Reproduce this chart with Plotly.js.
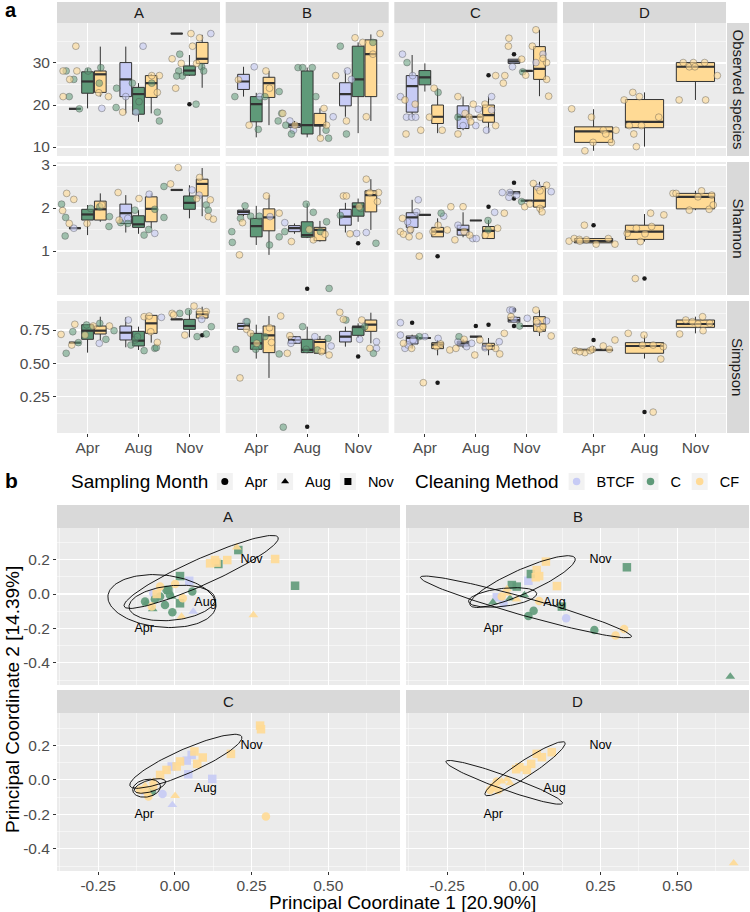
<!DOCTYPE html>
<html>
<head>
<meta charset="utf-8">
<script src="https://cdn.plot.ly/plotly-3.0.1.min.js"></script>
<style>
  html, body { margin: 0; padding: 0; background: #fff; }
  #chart { width: 750px; height: 912px; }
</style>
</head>
<body>
<div id="chart"></div>
<script>
var months = ['Apr', 'Aug', 'Nov'];
var sites = ['A', 'B', 'C', 'D'];
var methods = ['BTCF', 'C', 'CF'];
var metrics = ['Observed species', 'Shannon', 'Simpson'];
var colors = { BTCF: '#C7CBF5', C: '#5F9A79', CF: '#FFDA95' };
var pointFill = { BTCF: 'rgba(199,203,245,0.6)', C: 'rgba(95,154,121,0.55)', CF: 'rgba(255,218,149,0.6)' };

// box stats: site, method, month index, lower whisker, q1, median, q3, upper whisker
var obsBoxes = [
  ['A','BTCF',0,19.1,19.1,19.1,19.1,19.1], ['A','BTCF',1,18.0,22.0,26.1,30.1,33.9], ['A','BTCF',2,37,37,37,37,37],
  ['A','C',0,19.2,22.8,25.6,27.9,28.7], ['A','C',1,16.0,17.8,22.6,24.2,25.2], ['A','C',2,26.9,27.1,28.2,29.3,31.9],
  ['A','CF',0,22.0,23.0,27.3,28.1,33.9], ['A','CF',1,18.0,21.8,25.2,27.0,27.4], ['A','CF',2,24.1,29.9,31.0,34.9,36.7],
  ['B','BTCF',0,22.0,23.7,25.6,27.3,29.1], ['B','BTCF',1,14.7,14.7,15.2,15.6,16.2], ['B','BTCF',2,17.2,19.8,22.6,25.3,28.3],
  ['B','C',0,12.3,16.0,20.2,22.0,22.9], ['B','C',1,12.3,13.1,15.2,28.1,28.9], ['B','C',2,13.3,22.0,26.1,34.0,34.9],
  ['B','CF',0,15.2,21.8,25.2,26.6,28.1], ['B','CF',1,12.5,15.0,15.2,18.0,19.2], ['B','CF',2,16.2,22.0,32.1,35.5,36.8],
  ['C','BTCF',0,17.1,18.3,24.5,27.0,31.9], ['C','BTCF',1,14.0,14.4,17.2,19.8,22.0], ['C','BTCF',2,29.9,29.9,30.4,30.9,30.9],
  ['C','C',0,23.2,24.8,26.6,28.2,29.9], ['C','C',1,17.2,17.2,17.2,17.2,17.2], ['C','C',2,28.1,28.1,28.1,28.1,28.1],
  ['C','CF',0,13.3,15.6,17.2,20.0,24.0], ['C','CF',1,13.4,15.9,17.6,20.0,22.0], ['C','CF',2,22.1,26.1,28.6,33.9,37.9],
  ['D','CF',0,9.1,11.1,13.7,14.8,19.0], ['D','CF',1,10.1,14.6,16.0,21.3,23.0], ['D','CF',2,21.2,25.6,29.1,30.1,30.1]
];
var shanBoxes = [
  ['A','BTCF',0,1.53,1.53,1.53,1.53,1.53], ['A','BTCF',1,1.43,1.64,1.88,2.09,2.30], ['A','BTCF',2,2.42,2.42,2.42,2.42,2.42],
  ['A','C',0,1.37,1.72,1.85,1.97,2.07], ['A','C',1,1.40,1.55,1.62,1.82,1.95], ['A','C',2,1.76,1.97,2.12,2.28,2.53],
  ['A','CF',0,1.68,1.72,1.97,2.16,2.34], ['A','CF',1,1.53,1.68,1.98,2.26,2.34], ['A','CF',2,1.81,2.28,2.56,2.67,2.93],
  ['B','BTCF',0,1.81,1.85,1.91,1.95,2.00], ['B','BTCF',1,1.40,1.45,1.53,1.59,1.64], ['B','BTCF',2,1.43,1.60,1.80,1.97,2.12],
  ['B','C',0,1.14,1.33,1.58,1.76,2.05], ['B','C',1,1.30,1.32,1.37,1.68,2.11], ['B','C',2,1.68,1.81,2.03,2.12,2.22],
  ['B','CF',0,0.91,1.47,1.78,1.98,2.30], ['B','CF',1,1.22,1.24,1.49,1.55,1.70], ['B','CF',2,1.49,1.91,2.30,2.40,2.67],
  ['C','BTCF',0,1.41,1.55,1.78,1.89,2.19], ['C','BTCF',1,1.32,1.37,1.49,1.60,1.90], ['C','BTCF',2,2.33,2.33,2.36,2.38,2.38],
  ['C','C',0,1.84,1.84,1.84,1.84,1.84], ['C','C',1,1.71,1.71,1.71,1.71,1.71], ['C','C',2,2.17,2.17,2.17,2.17,2.17],
  ['C','CF',0,1.33,1.33,1.45,1.55,1.76], ['C','CF',1,1.29,1.29,1.47,1.57,1.72], ['C','CF',2,1.88,2.02,2.17,2.50,2.61],
  ['D','CF',0,1.16,1.19,1.23,1.29,1.29], ['D','CF',1,1.22,1.27,1.45,1.60,1.86], ['D','CF',2,1.95,1.98,2.26,2.34,2.40]
];
var simpBoxes = [
  ['A','BTCF',0,0.655,0.655,0.655,0.655,0.655], ['A','BTCF',1,0.62,0.675,0.73,0.78,0.845], ['A','BTCF',2,0.83,0.83,0.83,0.83,0.83],
  ['A','C',0,0.58,0.68,0.745,0.79,0.795], ['A','C',1,0.60,0.63,0.67,0.74,0.775], ['A','C',2,0.695,0.755,0.78,0.83,0.90],
  ['A','CF',0,0.675,0.72,0.745,0.78,0.85], ['A','CF',1,0.655,0.725,0.80,0.86,0.86], ['A','CF',2,0.83,0.84,0.87,0.89,0.925],
  ['B','BTCF',0,0.755,0.755,0.78,0.80,0.80], ['B','BTCF',1,0.65,0.65,0.675,0.70,0.70], ['B','BTCF',2,0.625,0.66,0.70,0.74,0.775],
  ['B','C',0,0.535,0.605,0.65,0.725,0.79], ['B','C',1,0.575,0.58,0.60,0.68,0.775], ['B','C',2,0.69,0.71,0.775,0.775,0.80],
  ['B','CF',0,0.39,0.58,0.71,0.78,0.855], ['B','CF',1,0.565,0.575,0.66,0.68,0.705], ['B','CF',2,0.65,0.74,0.79,0.825,0.88],
  ['C','BTCF',0,0.61,0.645,0.69,0.705,0.715], ['C','BTCF',1,0.615,0.63,0.65,0.665,0.68], ['C','BTCF',2,0.81,0.81,0.825,0.845,0.845],
  ['C','C',0,0.69,0.69,0.69,0.69,0.69], ['C','C',1,0.70,0.70,0.70,0.70,0.70], ['C','C',2,0.78,0.78,0.78,0.78,0.78],
  ['C','CF',0,0.56,0.61,0.64,0.655,0.675], ['C','CF',1,0.56,0.605,0.63,0.65,0.69], ['C','CF',2,0.705,0.74,0.795,0.85,0.90],
  ['D','CF',0,0.58,0.595,0.60,0.60,0.63], ['D','CF',1,0.535,0.575,0.63,0.655,0.71], ['D','CF',2,0.725,0.77,0.795,0.825,0.85]
];

// outliers: site, method, month index, value
var obsOut = [['A','C',2,20.2], ['C','BTCF',2,32.1], ['C','CF',1,27.1]];
var shanOut = [['B','C',1,0.12], ['B','C',2,1.18], ['C','CF',0,0.88], ['C','CF',1,2.03], ['C','BTCF',2,2.59],
  ['C','BTCF',2,2.22], ['D','CF',0,1.60], ['D','CF',1,0.36]];
var simpOut = [['A','CF',2,0.71], ['B','C',1,0.023], ['B','C',2,0.55], ['C','BTCF',0,0.805], ['C','CF',0,0.354],
  ['C','C',1,0.78], ['C','CF',1,0.79], ['C','BTCF',2,0.90], ['C','BTCF',2,0.78], ['D','CF',0,0.675], ['D','CF',1,0.133]];

// jittered samples: site, method, x position (month 1..3 + jitter), value
var obsPts = [
  ['A','CF',0.52,28.1],['A','C',0.58,28.1],['A','CF',0.77,34.0],['A','CF',0.79,28.1],['A','CF',0.65,26.1],['A','C',0.73,26.1],
  ['A','CF',0.52,22.0],['A','C',0.64,22.0],['A','C',0.84,19.1],['A','C',1.01,28.1],['A','C',1.23,25.2],['A','C',1.26,28.9],
  ['A','BTCF',1.28,19.2],['A','CF',1.41,22.0],['A','CF',1.22,22.9],
  ['A','C',1.56,19.4],['A','CF',1.69,18.3],['A','C',1.57,24.0],['A','BTCF',1.75,22.0],['A','BTCF',2.09,34.0],['A','C',1.88,25.2],
  ['A','BTCF',1.95,18.3],['A','C',2.01,20.8],['A','CF',2.26,27.0],['A','CF',2.41,27.0],['A','C',2.26,25.2],['A','CF',2.37,23.0],
  ['A','C',2.37,18.3],['A','C',2.41,16.2],
  ['A','CF',2.66,31.0],['A','CF',2.73,24.0],['A','C',2.81,32.1],['A','CF',2.84,29.9],['A','C',2.79,28.1],['A','C',2.86,26.9],
  ['A','C',2.75,26.9],['A','CF',3.03,37.0],['A','CF',3.06,34.0],['A','C',3.13,20.2],['A','CF',3.20,36.0],['A','BTCF',3.42,37.0],
  ['A','C',3.24,29.1],['A','C',3.28,28.1],['A','CF',3.14,29.9],
  ['B','C',0.58,22.0],['B','BTCF',0.96,29.1],['B','C',1.04,14.2],['B','BTCF',1.07,22.0],['B','C',1.17,22.0],['B','CF',1.19,28.1],
  ['B','CF',1.26,24.0],['B','C',1.45,23.2],['B','C',1.50,18.0],['B','CF',1.52,18.0],['B','CF',0.86,15.2],['B','CF',0.65,26.0],
  ['B','C',1.43,16.2],['B','C',1.58,15.2],['B','BTCF',1.66,16.2],['B','C',1.69,13.1],['B','CF',1.76,15.2],['B','C',1.82,28.9],
  ['B','C',1.91,28.9],['B','C',2.10,28.9],['B','C',2.17,22.0],['B','CF',2.26,12.1],['B','CF',2.33,19.2],['B','C',2.37,14.0],
  ['B','C',2.42,12.1],['B','BTCF',2.51,17.2],['B','BTCF',1.73,14.0],['B','CF',2.38,15.2],
  ['B','CF',2.56,27.0],['B','C',2.65,34.0],['B','CF',2.77,16.2],['B','BTCF',2.79,28.1],['B','C',2.77,13.1],['B','BTCF',2.87,26.1],
  ['B','CF',2.94,36.0],['B','CF',3.09,34.9],['B','CF',3.16,17.2],['B','C',3.29,34.9],['B','CF',3.29,32.1],['B','CF',3.43,37.0],
  ['C','BTCF',0.56,32.1],['C','C',0.65,30.1],['C','BTCF',0.52,22.0],['C','CF',0.61,21.2],['C','BTCF',0.64,17.1],['C','BTCF',0.74,17.1],
  ['C','BTCF',0.82,17.1],['C','CF',0.81,20.2],['C','CF',0.63,13.1],['C','BTCF',0.76,27.0],['C','CF',0.92,14.0],['C','CF',1.09,17.1],
  ['C','CF',1.18,24.0],['C','C',1.26,23.0],['C','CF',1.34,14.0],
  ['C','CF',1.65,22.0],['C','CF',1.65,13.1],['C','C',1.65,17.1],['C','BTCF',1.75,15.1],['C','CF',1.79,18.0],['C','CF',1.87,17.1],
  ['C','CF',1.90,16.0],['C','CF',1.95,20.2],['C','BTCF',2.00,15.1],['C','BTCF',2.05,19.0],['C','CF',2.09,17.1],['C','CF',2.18,20.2],
  ['C','BTCF',2.21,14.0],['C','BTCF',2.31,22.0],['C','BTCF',2.31,18.8],['C','CF',2.39,15.1],['C','CF',2.39,27.0],
  ['C','CF',2.54,25.2],['C','CF',2.57,27.0],['C','CF',2.65,35.9],['C','CF',2.64,34.0],['C','BTCF',2.72,29.1],['C','CF',2.90,30.9],
  ['C','CF',2.98,27.1],['C','C',2.92,27.9],['C','CF',3.11,34.0],['C','CF',3.18,37.9],['C','BTCF',3.18,30.1],['C','BTCF',3.32,32.1],
  ['C','CF',3.39,30.1],['C','CF',3.39,26.1],['C','CF',3.43,22.1],['C','CF',3.32,31.1],
  ['D','CF',0.57,19.1],['D','CF',0.96,17.1],['D','CF',0.83,9.1],['D','CF',0.99,11.1],['D','CF',1.19,14.0],['D','CF',1.24,13.1],
  ['D','CF',1.35,11.1],['D','CF',1.44,14.0],
  ['D','CF',1.60,21.2],['D','CF',1.77,23.0],['D','CF',1.90,22.0],['D','CF',1.70,15.1],['D','CF',1.79,13.1],['D','CF',1.84,10.1],
  ['D','CF',1.94,15.1],['D','CF',2.28,17.1],
  ['D','CF',2.68,21.2],['D','CF',2.76,30.1],['D','CF',2.88,29.1],['D','CF',2.96,30.1],['D','CF',2.99,29.1],['D','CF',3.18,30.1],
  ['D','CF',3.20,21.2],['D','CF',3.43,27.0]
];
var shanPts = [
  ['A','C',0.49,2.09],['A','CF',0.51,1.94],['A','C',0.57,1.78],['A','CF',0.59,2.34],['A','CF',0.64,1.64],['A','C',0.56,1.35],
  ['A','CF',0.73,2.20],['A','CF',0.99,1.64],['A','C',1.06,1.99],['A','CF',1.28,2.07],['A','C',1.24,2.03],['A','C',1.43,1.80],
  ['A','BTCF',0.73,1.53],['A','C',1.42,1.57],
  ['A','CF',1.60,2.36],['A','CF',1.62,1.72],['A','C',1.65,1.66],['A','BTCF',1.79,1.76],['A','C',1.79,1.64],['A','C',1.93,1.95],
  ['A','CF',2.01,2.22],['A','C',2.11,1.37],['A','C',2.20,1.50],['A','BTCF',2.21,2.32],['A','BTCF',2.32,1.41],['A','C',2.32,1.97],
  ['A','C',2.50,1.78],
  ['A','CF',2.78,2.94],['A','CF',2.63,2.56],['A','C',2.50,2.50],['A','BTCF',3.05,2.42],['A','CF',3.20,2.71],['A','CF',3.14,2.22],
  ['A','BTCF',3.19,2.30],['A','C',3.33,2.07],['A','C',3.37,1.95],['A','CF',3.41,2.19],['A','CF',3.37,1.80],['A','CF',3.47,1.74],
  ['B','C',0.52,1.45],['B','C',0.53,1.20],['B','CF',0.67,0.91],['B','C',0.69,1.76],['B','CF',0.73,1.66],['B','C',0.78,2.05],
  ['B','C',0.89,1.81],['B','C',1.06,1.81],['B','CF',1.20,2.28],['B','C',1.26,1.14],['B','BTCF',1.27,1.80],['B','CF',1.45,1.88],
  ['B','C',1.45,1.33],
  ['B','BTCF',1.56,1.66],['B','C',1.56,1.45],['B','CF',1.69,1.22],['B','C',1.98,2.09],['B','CF',2.04,1.50],['B','C',2.12,1.90],
  ['B','CF',2.12,1.26],['B','C',2.26,1.45],['B','CF',2.35,1.39],['B','C',2.38,1.68],['B','C',2.43,0.13],
  ['B','C',2.65,1.83],['B','CF',2.71,2.28],['B','CF',2.77,2.28],['B','CF',2.84,1.40],['B','CF',3.02,2.03],['B','C',3.05,1.99],
  ['B','BTCF',3.16,1.43],['B','C',3.35,1.18],['B','CF',3.38,2.15],['B','CF',3.16,2.67],['B','CF',3.23,2.36],['B','CF',3.40,2.36],
  ['B','BTCF',2.97,1.41],
  ['C','CF',0.52,1.45],['C','CF',0.56,1.76],['C','CF',0.58,1.39],['C','BTCF',0.66,1.68],['C','BTCF',0.71,1.49],['C','CF',0.69,1.33],
  ['C','CF',0.72,1.50],['C','BTCF',0.84,1.91],['C','BTCF',0.87,2.19],['C','CF',0.89,0.88],['C','CF',0.89,1.35],['C','CF',1.26,1.60],
  ['C','C',1.32,1.88],['C','BTCF',1.37,1.81],['C','CF',1.44,1.49],['C','CF',1.16,1.45],
  ['C','CF',1.51,2.03],['C','CF',1.59,1.26],['C','BTCF',1.65,1.60],['C','CF',1.75,2.03],['C','CF',1.77,1.45],['C','CF',1.88,1.37],
  ['C','BTCF',1.94,1.29],['C','BTCF',2.01,1.29],['C','CF',2.18,1.37],['C','C',2.24,1.49],['C','C',2.24,1.71],['C','BTCF',2.37,1.90],
  ['C','CF',2.43,1.53],['C','CF',2.56,1.88],
  ['C','BTCF',2.52,2.36],['C','BTCF',2.65,2.25],['C','BTCF',2.67,2.36],['C','BTCF',2.80,2.30],['C','C',2.90,2.15],['C','CF',2.96,2.03],
  ['C','CF',3.06,2.09],['C','CF',3.13,2.57],['C','BTCF',3.22,2.48],['C','CF',3.26,2.40],['C','CF',3.26,1.99],['C','CF',3.30,1.91],
  ['C','BTCF',3.48,2.38],['C','CF',3.39,2.53],
  ['D','CF',0.52,1.23],['D','CF',0.62,1.29],['D','CF',0.72,1.27],['D','CF',0.82,1.60],['D','CF',0.86,1.26],['D','CF',1.05,1.16],
  ['D','CF',1.29,1.29],['D','CF',1.42,1.16],['D','CF',0.73,1.23],
  ['D','CF',1.66,1.41],['D','CF',1.82,0.36],['D','CF',1.92,1.22],['D','CF',2.01,1.40],['D','CF',2.12,1.88],['D','CF',2.14,1.57],
  ['D','CF',2.38,1.84],['D','CF',1.84,1.53],
  ['D','CF',2.56,2.34],['D','CF',2.62,2.34],['D','CF',2.88,1.95],['D','CF',3.05,2.26],['D','CF',3.12,2.40],['D','CF',3.27,1.97],
  ['D','CF',3.32,2.30],['D','CF',3.35,2.07]
];
var simpPts = [
  ['A','CF',0.48,0.717],['A','C',0.58,0.575],['A','CF',0.69,0.637],['A','C',0.71,0.737],['A','CF',0.75,0.793],['A','C',0.82,0.655],
  ['A','CF',0.95,0.712],['A','C',0.98,0.788],['A','CF',1.11,0.78],['A','BTCF',1.23,0.65],['A','C',1.24,0.80],['A','C',1.36,0.68],
  ['A','CF',1.43,0.78],['A','C',1.52,0.745],
  ['A','BTCF',1.80,0.825],['A','C',1.85,0.637],['A','C',1.93,0.675],['A','C',1.98,0.70],['A','C',2.11,0.595],['A','CF',2.11,0.85],
  ['A','CF',2.21,0.855],['A','CF',2.24,0.737],['A','C',2.32,0.612],['A','CF',2.37,0.657],['A','BTCF',2.45,0.845],['A','C',2.35,0.617],
  ['A','CF',2.66,0.875],['A','CF',2.69,0.863],['A','C',2.81,0.875],['A','CF',2.91,0.712],['A','C',2.98,0.888],['A','CF',3.09,0.93],
  ['A','C',3.15,0.70],['A','CF',3.20,0.888],['A','BTCF',3.24,0.83],['A','C',3.33,0.72],['A','C',3.43,0.775],['A','CF',3.33,0.888],
  ['B','C',0.60,0.605],['B','CF',0.68,0.39],['B','BTCF',0.80,0.813],['B','C',0.82,0.813],['B','CF',0.81,0.755],['B','C',0.99,0.605],
  ['B','CF',1.01,0.65],['B','C',1.17,0.70],['B','CF',1.26,0.767],['B','CF',1.30,0.657],['B','CF',1.48,0.855],['B','C',1.45,0.57],
  ['B','CF',0.89,0.725],
  ['B','CF',1.61,0.575],['B','CF',1.66,0.707],['B','BTCF',1.68,0.65],['B','BTCF',1.82,0.675],['B','C',1.91,0.775],['B','C',1.98,0.605],
  ['B','BTCF',2.15,0.70],['B','C',2.20,0.60],['B','CF',2.28,0.587],['B','C',2.41,0.687],['B','CF',2.43,0.562],['B','BTCF',2.47,0.63],
  ['B','C',1.53,0.02],
  ['B','CF',2.64,0.883],['B','CF',2.71,0.83],['B','C',2.76,0.825],['B','BTCF',3.03,0.68],['B','CF',3.07,0.825],['B','C',3.13,0.775],
  ['B','CF',3.23,0.612],['B','C',3.30,0.575],['B','BTCF',3.36,0.612],['B','BTCF',3.36,0.662],
  ['C','BTCF',0.52,0.805],['C','BTCF',0.52,0.712],['C','CF',0.58,0.65],['C','BTCF',0.61,0.612],['C','BTCF',0.67,0.637],['C','CF',0.74,0.612],
  ['C','BTCF',0.77,0.675],['C','C',0.89,0.70],['C','BTCF',1.00,0.70],['C','CF',1.23,0.625],['C','BTCF',1.26,0.687],['C','CF',1.31,0.645],
  ['C','CF',1.49,0.60],['C','CF',0.97,0.354],
  ['C','CF',1.61,0.612],['C','BTCF',1.65,0.662],['C','C',1.67,0.70],['C','CF',1.77,0.68],['C','BTCF',1.82,0.625],['C','BTCF',1.92,0.65],
  ['C','CF',1.98,0.562],['C','CF',2.08,0.675],['C','BTCF',2.18,0.617],['C','CF',2.26,0.625],['C','CF',2.39,0.612],['C','BTCF',2.46,0.662],
  ['C','CF',2.47,0.57],['C','CF',2.56,0.725],
  ['C','BTCF',2.67,0.90],['C','BTCF',2.72,0.90],['C','CF',2.69,0.85],['C','BTCF',2.75,0.83],['C','C',2.86,0.78],['C','BTCF',3.01,0.838],
  ['C','CF',3.18,0.90],['C','BTCF',3.22,0.80],['C','CF',3.26,0.755],['C','CF',3.32,0.775],['C','BTCF',3.39,0.818],['C','CF',3.48,0.705],
  ['C','CF',3.19,0.813],
  ['D','CF',0.64,0.595],['D','CF',0.83,0.58],['D','CF',0.93,0.595],['D','CF',0.98,0.605],['D','CF',1.19,0.63],['D','CF',1.31,0.605],
  ['D','CF',1.42,0.675],['D','CF',0.73,0.587],
  ['D','CF',1.68,0.725],['D','CF',1.96,0.637],['D','CF',1.99,0.712],['D','CF',2.17,0.637],['D','CF',2.32,0.532],['D','CF',2.37,0.625],
  ['D','CF',2.17,0.133],
  ['D','CF',2.69,0.72],['D','CF',2.81,0.825],['D','CF',2.94,0.813],['D','CF',3.14,0.85],['D','CF',3.15,0.745],['D','CF',3.05,0.795],
  ['D','CF',3.28,0.80]
];

// PCoA samples: site, method, month, PC1, PC2
var pcoaPts = [
  ['A','C','Nov',0.017,0.104],['A','C','Nov',0.392,0.048],['A','C','Nov',0.207,0.255],['A','C','Nov',0.142,0.174],
  ['A','C','Nov',0.017,-0.054],['A','C','Nov',-0.021,0.023],['A','C','Apr',0.057,0.014],['A','C','Apr',-0.097,-0.044],
  ['A','C','Apr',-0.065,-0.031],['A','C','Apr',-0.048,-0.015],['A','C','Apr',-0.032,-0.064],['A','C','Apr',-0.027,0.023],
  ['A','C','Apr',-0.016,-0.006],['A','C','Apr',-0.008,-0.106],['A','C','Aug',-0.092,-0.054],['A','C','Aug',-0.072,-0.087],
  ['A','C','Aug',-0.010,-0.015],
  ['A','CF','Aug',0.202,0.271],['A','CF','Nov',0.115,0.178],['A','CF','Nov',0.131,0.197],['A','CF','Nov',0.136,0.182],
  ['A','CF','Nov',0.171,0.197],['A','CF','Nov',0.327,0.203],['A','CF','Aug',0.256,-0.122],['A','CF','Aug',0.022,-0.131],
  ['A','CF','Apr',-0.048,0.043],['A','CF','Apr',0.001,0.058],['A','CF','Apr',0.026,-0.025],['A','CF','Apr',-0.075,-0.073],
  ['A','CF','Nov',-0.059,0.0],
  ['A','BTCF','Nov',0.047,0.077],['A','BTCF','Aug',0.060,-0.102],['A','BTCF','Apr',-0.070,0.004],
  ['B','C','Nov',0.336,0.155],['B','C','Nov',0.023,0.116],['B','C','Nov',-0.039,0.052],['B','C','Nov',-0.023,0.043],
  ['B','C','Nov',0.124,-0.073],['B','C','Apr',0.032,-0.097],['B','C','Apr',0.015,-0.127],['B','C','Apr',0.230,-0.209],
  ['B','C','Aug',0.673,-0.479],['B','C','Aug',-0.101,-0.048],['B','C','Aug',-0.045,-0.025],['B','C','Aug',0.002,-0.006],
  ['B','CF','Nov',0.072,0.188],['B','CF','Nov',0.042,0.139],['B','CF','Nov',0.050,0.104],['B','CF','Nov',0.039,0.097],
  ['B','CF','Nov',0.108,0.046],['B','CF','Apr',0.050,-0.040],['B','CF','Apr',0.327,-0.203],['B','CF','Apr',0.299,-0.241],
  ['B','CF','Aug',-0.055,0.029],['B','CF','Aug',-0.023,-0.031],['B','CF','Aug',-0.053,0.004],['B','CF','Apr',-0.072,-0.015],
  ['B','BTCF','Nov',0.015,0.077],['B','BTCF','Nov',-0.088,-0.019],['B','BTCF','Apr',0.138,-0.141],['B','BTCF','Apr',-0.066,-0.054],
  ['C','CF','Nov',0.278,0.315],['C','CF','Nov',0.281,0.294],['C','CF','Apr',0.297,-0.212],['C','CF','Nov',0.183,0.151],
  ['C','CF','Nov',0.091,0.130],['C','CF','Nov',0.073,0.093],['C','CF','Nov',0.064,0.165],['C','CF','Nov',0.017,0.107],
  ['C','CF','Nov',0.006,0.078],['C','CF','Nov',-0.027,0.058],['C','CF','Nov',-0.048,0.029],['C','CF','Aug',0.001,-0.092],
  ['C','CF','Apr',-0.092,-0.067],['C','CF','Apr',-0.114,-0.058],['C','CF','Apr',-0.070,-0.038],['C','CF','Aug',-0.097,-0.034],
  ['C','CF','Apr',-0.086,-0.096],['C','CF','Aug',-0.070,-0.009],
  ['C','BTCF','Nov',0.055,0.145],['C','BTCF','Nov',0.039,0.112],['C','BTCF','Nov',0.044,0.033],['C','BTCF','Nov',0.122,0.006],
  ['C','BTCF','Nov',-0.010,0.078],['C','BTCF','Apr',-0.040,-0.081],['C','BTCF','Aug',-0.008,-0.145],['C','BTCF','Apr',-0.103,-0.063],
  ['C','C','Apr',-0.075,-0.067],
  ['D','CF','Nov',0.091,0.161],['D','CF','Nov',0.042,0.151],['D','CF','Nov',0.059,0.132],['D','CF','Nov',0.024,0.093],
  ['D','CF','Nov',0.010,0.058],['D','CF','Nov',-0.014,0.074],['D','CF','Nov',-0.025,0.062],['D','CF','Apr',-0.110,-0.058],
  ['D','CF','Apr',-0.099,-0.038],['D','CF','Apr',-0.083,-0.058],['D','CF','Aug',-0.072,-0.009],['D','CF','Aug',-0.055,0.004],
  ['D','CF','Aug',-0.045,-0.019],['D','CF','Apr',-0.088,-0.009],['D','CF','Aug',0.684,-0.483]
];

// confidence ellipses: site, month, centre x, centre y, half-axis u (x,y), half-axis v (x,y)
var ellipses = [
  ['A','Apr',-0.042,-0.041,0.176,-0.029,0.0065,0.151],
  ['A','Aug',-0.009,-0.052,0.140,0.029,0.0098,-0.099],
  ['A','Nov',0.086,0.128,0.251,0.200,0.016,-0.070],
  ['B','Apr',0.007,-0.075,0.344,-0.172,-0.008,-0.050],
  ['B','Aug',-0.069,-0.020,0.111,0.023,0.003,-0.052],
  ['B','Nov',-0.004,0.072,0.171,0.136,0.016,-0.064],
  ['C','Apr',-0.092,-0.048,0.045,0.015,-0.005,0.050],
  ['C','Aug',-0.081,-0.035,0.050,0.030,0.010,-0.030],
  ['C','Nov',0.036,0.108,0.182,0.143,0.016,-0.064],
  ['D','Apr',-0.064,-0.014,0.190,-0.121,-0.0077,-0.038],
  ['D','Nov',0.004,0.065,0.130,0.152,0.014,-0.039]
];
var monthLabelX = [-0.10, 0.10, 0.25];
var monthLabelY = [-0.20, -0.05, 0.20];

// ---------- layout geometry (pixels) ----------
var W = 750, H = 912;
function px(x) { return x / W; }
function py(y) { return 1 - y / H; }
function an(k) { return k === 1 ? '' : String(k); }

var aColL = [57, 225.7, 394.3, 563], aColW = 163;
var aRowT = [23, 162, 301], aRowB = [156, 295, 433];
var aYRange = [[7.86, 39.52], [-0.023, 3.07], [-0.024, 0.968]];
var aYTicks = [[10, 20, 30], [1, 2, 3], [0.25, 0.5, 0.75]];
var aYText = [['10', '20', '30'], ['1', '2', '3'], ['0.25', '0.50', '0.75']];
var aYMinor = [[15, 25, 35], [0.5, 1.5, 2.5], [0.125, 0.375, 0.625, 0.875]];
var bColL = [57, 406], bColW = 343;
var bRowT = [528, 713], bRowB = [685, 871];
var bYRange = [[-0.528, 0.383], [-0.528, 0.388]];

var font = 'Liberation Sans, Arial, sans-serif';
var tickFont = { family: font, size: 15.5, color: '#4D4D4D' };
var stripFont = { family: font, size: 15, color: '#1A1A1A' };

var layout = {
  width: W, height: H,
  margin: { l: 0, r: 0, t: 0, b: 0, autoexpand: false },
  paper_bgcolor: '#FFFFFF',
  plot_bgcolor: '#EBEBEB',
  boxmode: 'overlay',
  font: { family: font },
  shapes: [],
  annotations: []
};

function addStrip(x0, x1, y0, y1, text, angle) {
  layout.shapes.push({ type: 'rect', xref: 'paper', yref: 'paper', x0: px(x0), x1: px(x1), y0: py(y1), y1: py(y0),
    fillcolor: '#D9D9D9', line: { width: 0 }, layer: 'below' });
  layout.annotations.push({ xref: 'paper', yref: 'paper', x: px((x0 + x1) / 2), y: py((y0 + y1) / 2),
    text: text, showarrow: false, font: stripFont, textangle: angle || 0, xanchor: 'center', yanchor: 'middle' });
}

// panel a axes
for (var r = 0; r < 3; r++) {
  for (var c = 0; c < 4; c++) {
    var k = r * 4 + c + 1;
    layout['xaxis' + an(k)] = {
      domain: [px(aColL[c]), px(aColL[c] + aColW)], range: [0.4, 3.6], anchor: 'y' + an(k),
      tickvals: [1, 2, 3], ticktext: months, showticklabels: r === 2, ticks: r === 2 ? 'outside' : '',
      ticklen: 3, tickcolor: '#333333', tickfont: tickFont, ticklabelstandoff: -3, gridcolor: '#FFFFFF', gridwidth: 1.1,
      zeroline: false, showline: false, fixedrange: true
    };
    layout['yaxis' + an(k)] = {
      domain: [py(aRowB[r]), py(aRowT[r])], range: aYRange[r], anchor: 'x' + an(k),
      tickvals: aYTicks[r], ticktext: aYText[r], showticklabels: c === 0, ticks: c === 0 ? 'outside' : '',
      ticklen: 3, tickcolor: '#333333', tickfont: tickFont, gridcolor: '#FFFFFF', gridwidth: 1.1,
      minor: { tickvals: aYMinor[r], showgrid: true, gridcolor: '#FFFFFF', gridwidth: 0.5 },
      zeroline: false, showline: false, fixedrange: true
    };
  }
}
sites.forEach(function (s, c) { addStrip(aColL[c], aColL[c] + aColW, 2, 23, s); });
metrics.forEach(function (m, r) { addStrip(727, 749, aRowT[r], aRowB[r], m, 90); });

// panel b axes
for (var r2 = 0; r2 < 2; r2++) {
  for (var c2 = 0; c2 < 2; c2++) {
    var kb = 13 + r2 * 2 + c2;
    layout['xaxis' + kb] = {
      domain: [px(bColL[c2]), px(bColL[c2] + bColW)], range: [-0.384, 0.734], anchor: 'y' + kb,
      tickvals: [-0.25, 0, 0.25, 0.5], ticktext: ['-0.25', '0.00', '0.25', '0.50'],
      showticklabels: r2 === 1, ticks: r2 === 1 ? 'outside' : '', ticklen: 3, tickcolor: '#333333', tickfont: tickFont,
      ticklabelstandoff: -3, gridcolor: '#FFFFFF', gridwidth: 1.1,
      minor: { tickvals: [-0.375, -0.125, 0.125, 0.375, 0.625], showgrid: true, gridcolor: '#FFFFFF', gridwidth: 0.5 },
      zeroline: false, showline: false, fixedrange: true
    };
    layout['yaxis' + kb] = {
      domain: [py(bRowB[r2]), py(bRowT[r2])], range: bYRange[r2], anchor: 'x' + kb,
      tickvals: [-0.4, -0.2, 0, 0.2], ticktext: ['-0.4', '-0.2', '0.0', '0.2'],
      showticklabels: c2 === 0, ticks: c2 === 0 ? 'outside' : '', ticklen: 3, tickcolor: '#333333', tickfont: tickFont,
      gridcolor: '#FFFFFF', gridwidth: 1.1,
      minor: { tickvals: [-0.5, -0.3, -0.1, 0.1, 0.3], showgrid: true, gridcolor: '#FFFFFF', gridwidth: 0.5 },
      zeroline: false, showline: false, fixedrange: true
    };
    addStrip(bColL[c2], bColL[c2] + bColW, bRowT[r2] - 23, bRowT[r2], sites[r2 * 2 + c2]);
  }
}

layout.annotations.push(
  { xref: 'paper', yref: 'paper', x: px(3), y: py(10), text: '<b>a</b>', showarrow: false, xanchor: 'left', yanchor: 'middle',
    font: { family: font, size: 20, color: '#000' } },
  { xref: 'paper', yref: 'paper', x: px(3), y: py(480), text: '<b>b</b>', showarrow: false, xanchor: 'left', yanchor: 'middle',
    font: { family: font, size: 21, color: '#000' } },
  { xref: 'paper', yref: 'paper', x: px(402), y: py(902), text: 'Principal Coordinate 1 [20.90%]', showarrow: false,
    xanchor: 'center', yanchor: 'middle', font: { family: font, size: 19, color: '#000' } },
  { xref: 'paper', yref: 'paper', x: px(12), y: py(700), text: 'Principal Coordinate 2 [14.39%]', showarrow: false,
    textangle: -90, xanchor: 'center', yanchor: 'middle', font: { family: font, size: 19, color: '#000' } },
  { xref: 'paper', yref: 'paper', x: px(69), y: py(481), text: 'Sampling Month', showarrow: false,
    xanchor: 'left', yanchor: 'middle', font: { family: font, size: 19, color: '#000' } },
  { xref: 'paper', yref: 'paper', x: px(413), y: py(481), text: 'Cleaning Method', showarrow: false,
    xanchor: 'left', yanchor: 'middle', font: { family: font, size: 19, color: '#000' } }
);

// ---------- traces ----------
var traces = [];
var dodge = { BTCF: -0.25, C: 0, CF: 0.25 };

function addBoxRow(boxes, outs, pts, r) {
  sites.forEach(function (s, c) {
    var k = r * 4 + c + 1;
    var xa = 'x' + an(k), ya = 'y' + an(k);
    var single = s === 'D';
    var w = single ? 0.75 : 0.23;
    methods.forEach(function (m) {
      var rows = boxes.filter(function (b) { return b[0] === s && b[1] === m; });
      if (!rows.length) return;
      var pos = rows.map(function (b) { return b[2] + 1 + (single ? 0 : dodge[m]); });
      traces.push({
        type: 'box', xaxis: xa, yaxis: ya, x: pos,
        lowerfence: rows.map(function (b) { return b[3]; }),
        q1: rows.map(function (b) { return b[4]; }),
        median: rows.map(function (b) { return b[5]; }),
        q3: rows.map(function (b) { return b[6]; }),
        upperfence: rows.map(function (b) { return b[7]; }),
        width: w, whiskerwidth: 0, fillcolor: colors[m], line: { color: '#333333', width: 1 },
        boxpoints: false, hoverinfo: 'skip', showlegend: false
      });
      // thicker median bar as in ggplot
      var mx = [], my = [];
      rows.forEach(function (b, i) { mx.push(pos[i] - w / 2, pos[i] + w / 2, null); my.push(b[5], b[5], null); });
      traces.push({ type: 'scatter', mode: 'lines', xaxis: xa, yaxis: ya, x: mx, y: my,
        line: { color: '#333333', width: 2.2 }, hoverinfo: 'skip', showlegend: false });
    });
    var o = outs.filter(function (d) { return d[0] === s; });
    if (o.length) {
      traces.push({ type: 'scatter', mode: 'markers', xaxis: xa, yaxis: ya,
        x: o.map(function (d) { return d[2] + 1 + (single ? 0 : dodge[d[1]]); }),
        y: o.map(function (d) { return d[3]; }),
        marker: { color: '#1A1A1A', size: 4.5 }, hoverinfo: 'skip', showlegend: false });
    }
    methods.forEach(function (m) {
      var p = pts.filter(function (d) { return d[0] === s && d[1] === m; });
      if (!p.length) return;
      traces.push({ type: 'scatter', mode: 'markers', xaxis: xa, yaxis: ya,
        x: p.map(function (d) { return d[2]; }), y: p.map(function (d) { return d[3]; }),
        marker: { color: pointFill[m], size: 6.8, line: { color: 'rgba(70,70,70,0.55)', width: 0.7 } },
        hoverinfo: 'skip', showlegend: false });
    });
  });
}
addBoxRow(obsBoxes, obsOut, obsPts, 0);
addBoxRow(shanBoxes, shanOut, shanPts, 1);
addBoxRow(simpBoxes, simpOut, simpPts, 2);

var symbols = { Apr: 'circle', Aug: 'triangle-up', Nov: 'square' };
sites.forEach(function (s, i) {
  var kb = 13 + i;
  var xa = 'x' + kb, ya = 'y' + kb;
  methods.forEach(function (m) {
    var p = pcoaPts.filter(function (d) { return d[0] === s && d[1] === m; });
    if (!p.length) return;
    traces.push({ type: 'scatter', mode: 'markers', xaxis: xa, yaxis: ya,
      x: p.map(function (d) { return d[3]; }), y: p.map(function (d) { return d[4]; }),
      marker: { color: colors[m], opacity: 0.9, size: 8.5, symbol: p.map(function (d) { return symbols[d[2]]; }) },
      hoverinfo: 'skip', showlegend: false });
  });
  ellipses.filter(function (e) { return e[0] === s; }).forEach(function (e) {
    var ex = [], ey = [];
    for (var j = 0; j <= 120; j++) {
      var t = 2 * Math.PI * j / 120;
      ex.push(e[2] + e[4] * Math.cos(t) + e[6] * Math.sin(t));
      ey.push(e[3] + e[5] * Math.cos(t) + e[7] * Math.sin(t));
    }
    traces.push({ type: 'scatter', mode: 'lines', xaxis: xa, yaxis: ya, x: ex, y: ey,
      line: { color: '#000000', width: 0.9 }, hoverinfo: 'skip', showlegend: false });
  });
  traces.push({ type: 'scatter', mode: 'text', xaxis: xa, yaxis: ya, x: monthLabelX, y: monthLabelY, text: months,
    textfont: { family: font, size: 12.5, color: '#000' }, hoverinfo: 'skip', showlegend: false });
});

// legend: one small legend per key so each sits where the reference has it
var keyX = [224.8, 285.1, 347.9, 576.6, 650.5, 699.7];
var keyNames = months.concat(methods);
keyNames.forEach(function (name, i) {
  var lg = 'legend' + (i === 0 ? '' : (i + 1));
  var isMonth = i < 3;
  traces.push({ type: 'scatter', mode: 'markers', xaxis: 'x13', yaxis: 'y13', x: [null], y: [null], name: name,
    marker: { color: isMonth ? '#000' : colors[name], size: isMonth ? 7 : 7.5, symbol: isMonth ? symbols[name] : 'circle' },
    legend: lg, showlegend: true });
  layout[lg] = { x: px(keyX[i] - 20), xanchor: 'left', y: py(465.5), yanchor: 'top', orientation: 'h',
    font: { family: font, size: 14.5, color: '#000' }, itemwidth: 30, bgcolor: 'rgba(0,0,0,0)', borderwidth: 0 };
  layout.shapes.push({ type: 'rect', xref: 'paper', yref: 'paper', x0: px(keyX[i] - 8), x1: px(keyX[i] + 8),
    y0: py(490), y1: py(473), fillcolor: '#F2F2F2', line: { width: 0 }, layer: 'below' });
});

Plotly.newPlot('chart', traces, layout, { displayModeBar: false, staticPlot: true });
</script>
</body>
</html>
